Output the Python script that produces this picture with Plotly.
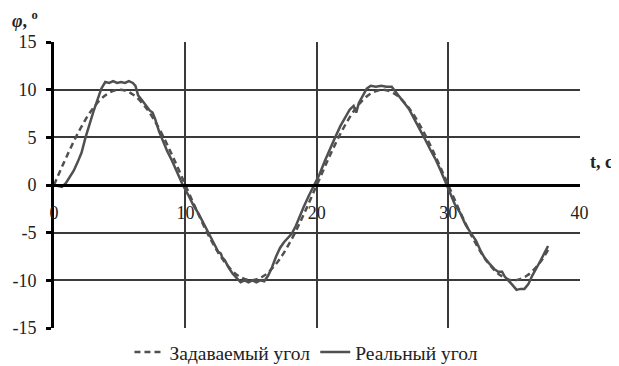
import plotly.graph_objects as go

# Set-point angle (dashed), t in seconds, angle in degrees
set_t = [0, 1, 2, 3, 4, 5, 6, 7, 8, 9, 10, 11, 12, 13, 14, 15, 16, 17, 18, 19,
         20, 21, 22, 23, 24, 25, 26, 27, 28, 29, 30, 31, 32, 33, 34, 35, 36, 37, 37.6]
set_v = [0, 3.1, 5.9, 8.1, 9.5, 10, 9.5, 8.1, 5.9, 3.1, 0, -3.1, -5.9, -8.1, -9.5, -10,
         -9.5, -8.1, -5.9, -3.1, 0, 3.1, 5.9, 8.1, 9.5, 10, 9.5, 8.1, 5.9, 3.1, 0, -3.1,
         -5.9, -8.1, -9.5, -10, -9.5, -8.1, -6.8]

# Real angle (solid)
real_t = [0.0, 0.3, 0.6, 0.9, 1.2, 1.5, 1.8, 2.1, 2.4, 2.7, 3.0, 3.3, 3.6, 3.9, 4.2, 4.5,
          4.8, 5.1, 5.4, 5.7, 6.0, 6.2, 6.4, 6.7, 7.0, 7.3, 7.5, 7.7, 8.0, 8.3, 8.6, 9.0,
          9.4, 9.8, 10.2, 10.6, 11.0, 11.4, 11.8, 12.2, 12.5, 12.7, 12.8, 13.0, 13.3, 13.6,
          13.9, 14.2, 14.5, 14.8, 15.1, 15.4, 15.7, 16.0, 16.3, 16.6, 16.9, 17.2, 17.5,
          17.8, 18.1, 18.4, 18.7, 19.0, 19.4, 19.8, 20.2, 20.6, 21.0, 21.4, 21.8, 22.2,
          22.5, 22.8, 23.0, 23.2, 23.5, 23.8, 24.1, 24.5, 24.9, 25.3, 25.7, 26.0, 26.3,
          26.6, 27.0, 27.4, 27.8, 28.2, 28.6, 29.0, 29.4, 29.8, 30.1, 30.5, 30.9, 31.3,
          31.7, 32.1, 32.5, 32.8, 33.1, 33.5, 33.8, 34.1, 34.3, 34.6, 34.9, 35.2, 35.5,
          35.8, 36.1, 36.4, 36.7, 37.0, 37.3, 37.6]
real_v = [0.0, -0.1, -0.2, 0.2, 0.8, 1.5, 2.4, 3.4, 5.0, 6.4, 7.7, 8.9, 10.1, 10.8, 10.7,
          10.9, 10.7, 10.8, 10.7, 10.9, 10.7, 10.4, 9.4, 8.9, 8.3, 7.8, 7.6, 6.9, 5.6, 4.5,
          3.6, 2.5, 1.3, 0.0, -1.0, -2.1, -3.0, -4.1, -5.2, -6.2, -7.0, -7.2, -7.6, -7.9,
          -8.7, -9.3, -9.8, -10.2, -10.0, -10.2, -10.0, -10.2, -10.0, -10.1, -9.5, -8.6,
          -7.5, -6.6, -6.0, -5.5, -5.1, -4.3, -3.2, -2.3, -1.1, 0.0, 1.1, 2.5, 3.8, 5.0,
          6.2, 7.2, 7.9, 8.3, 7.6, 8.6, 9.4, 10.1, 10.4, 10.3, 10.4, 10.3, 10.3, 9.8, 9.3,
          8.7, 8.0, 7.0, 5.9, 4.9, 3.8, 2.8, 1.6, 0.3, -0.8, -2.0, -2.9, -4.1, -5.0, -5.8,
          -7.0, -7.7, -8.2, -8.8, -9.1, -9.1, -9.6, -10.0, -10.5, -11.0, -10.9, -10.9,
          -10.4, -9.5, -8.8, -8.0, -7.2, -6.4]

x_ticks = [0, 10, 20, 30, 40]
x_labels = ["0", "10", "20", "30", "40"]
y_ticks = [-15, -10, -5, 0, 5, 10, 15]
y_labels = ["-15", "-10", "-5", "0", "5", "10", "15"]

FONT = "Liberation Serif, Times New Roman, DejaVu Serif, serif"
GRID = "#3a3a3a"
LINE = "#505050"

fig = go.Figure()
fig.add_trace(go.Scatter(x=set_t, y=set_v, mode="lines", name="Задаваемый угол",
                         line=dict(color=LINE, width=2.5, dash="6px,4px", shape="spline")))
fig.add_trace(go.Scatter(x=real_t, y=real_v, mode="lines", name="Реальный угол",
                         line=dict(color=LINE, width=2.5)))

# the page body has an 8px margin, so the figure is sized to 611x358
fig.update_layout(
    width=611, height=358,
    margin=dict(l=46, r=39, t=34, b=38, autoexpand=False),
    paper_bgcolor="white", plot_bgcolor="white",
    font=dict(family=FONT, size=18, color="#222"),
    showlegend=True,
    legend=dict(orientation="h", x=0.48, xanchor="center", y=-0.085, yanchor="middle",
                font=dict(size=19.5, family=FONT), itemwidth=30, tracegroupgap=0),
    xaxis=dict(range=[0, 40.03], tickvals=x_ticks, ticktext=x_labels, showgrid=True,
               gridcolor=GRID, gridwidth=1.5, automargin=False,
               zeroline=False, showline=True, linecolor="black", linewidth=3,
               anchor="free", position=0.5, ticks="outside", ticklen=10,
               tickcolor="rgba(0,0,0,0)", tickfont=dict(size=18, family=FONT)),
    yaxis=dict(range=[-15, 15], tickvals=y_ticks, ticktext=y_labels, showgrid=True,
               gridcolor=GRID, gridwidth=1.5, automargin=False,
               zeroline=False, showline=True, linecolor="black", linewidth=3,
               ticks="outside", ticklen=5, tickwidth=3, tickcolor="black",
               ticklabelstandoff=6,
               tickfont=dict(size=18, family=FONT)),
    annotations=[
        dict(text="<b><i>φ</i>, <sup>o</sup></b>", xref="paper", yref="paper",
             x=-0.055, y=1.03, xanchor="center", yanchor="bottom", showarrow=False,
             font=dict(size=18, family=FONT, color="#222")),
        dict(text="<b>t, c</b>", xref="paper", yref="paper",
             x=1.015, y=0.58, xanchor="left", yanchor="middle", showarrow=False,
             font=dict(size=18, family=FONT, color="#222")),
    ],
)

fig.write_html("out.html")
